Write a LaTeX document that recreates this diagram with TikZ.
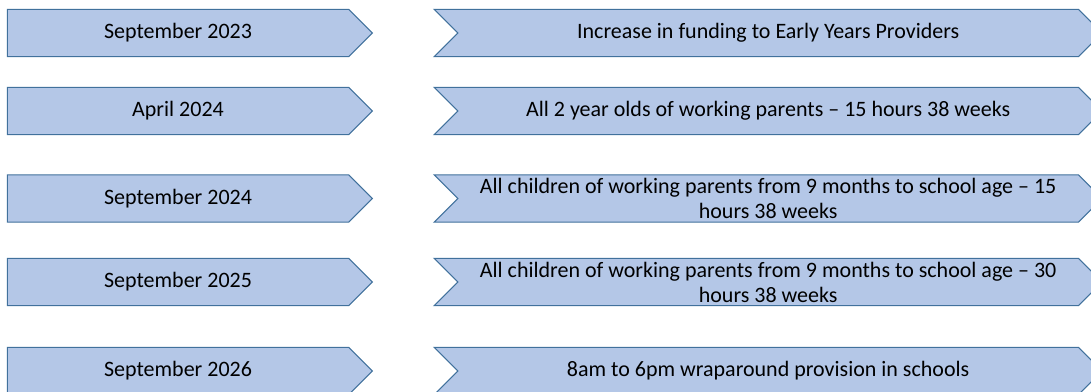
\documentclass[tikz,border=0pt]{standalone}
\usepackage{fontspec}
\setmainfont{Carlito}
\usetikzlibrary{positioning, shapes.symbols}

\definecolor{stepfill}{HTML}{B4C7E7}
\definecolor{stepline}{HTML}{41719C}

\begin{document}
\begin{tikzpicture}[
  x=0.75pt, y=-0.75pt,
  font=\fontsize{16.5}{18.8}\selectfont,
  datebox/.style={signal, signal to=east, draw=stepline, fill=stepfill, line width=0.8pt,
    minimum width=273.75pt, minimum height=35.5pt, inner sep=0pt, align=center},
  planbox/.style={signal, signal to=east, signal from=west, draw=stepline, fill=stepfill, line width=0.8pt,
    minimum width=501pt, minimum height=35.5pt, inner sep=0pt, align=center}
]
  \useasboundingbox (0,0) rectangle (1091,392);

  % dates on the left
  \node[datebox] (D1) at (178,33)  {September 2023};
  \node[datebox] (D2) at (178,111) {April 2024};
  \node[datebox] (D3) at (178,198.5) {September 2024};
  \node[datebox] (D4) at (178,282) {September 2025};
  \node[datebox] (D5) at (178,371) {September 2026};

  % what changes at each date
  \node[planbox, right=63pt of D1] (P1) {Increase in funding to Early Years Providers};
  \node[planbox, right=63pt of D2] (P2) {All 2 year olds of working parents -- 15 hours 38 weeks};
  \node[planbox, right=63pt of D3] (P3) {All children of working parents from 9 months to school age -- 15\\hours 38 weeks};
  \node[planbox, right=63pt of D4] (P4) {All children of working parents from 9 months to school age -- 30\\hours 38 weeks};
  \node[planbox, right=63pt of D5] (P5) {8am to 6pm wraparound provision in schools};
\end{tikzpicture}
\end{document}
